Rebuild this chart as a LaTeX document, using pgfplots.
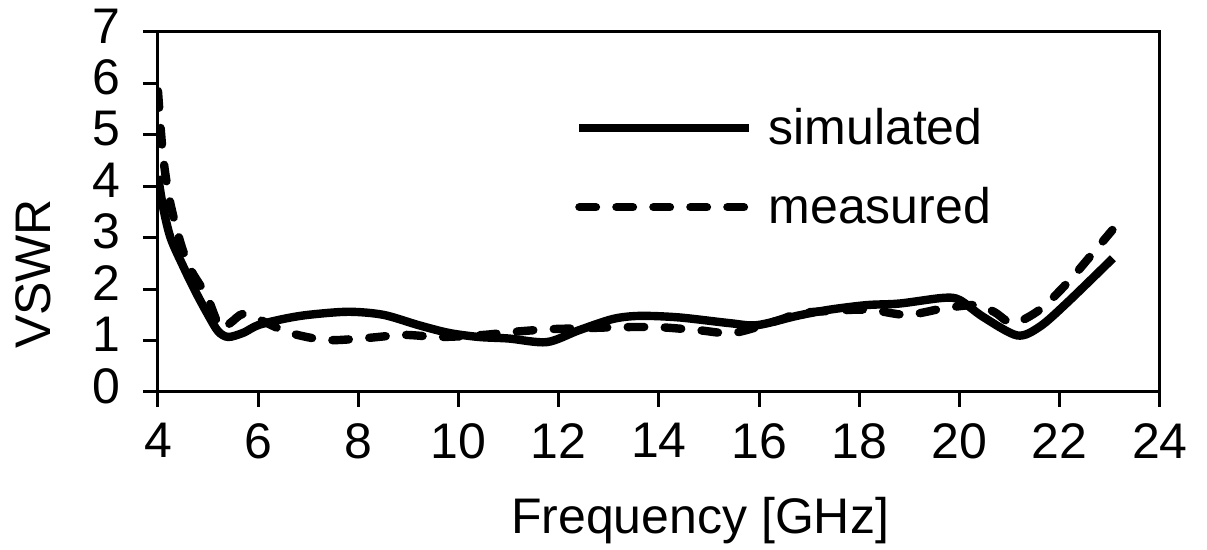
\documentclass[border=0pt]{standalone}
\usepackage{fontspec}
\setmainfont{Liberation Sans}
\usepackage{pgfplots}
\pgfplotsset{compat=1.18}
\begin{document}
\begin{tikzpicture}
\begin{axis}[
  scale only axis, width=501pt, height=180pt,
  xmin=4, xmax=24, ymin=0, ymax=7,
  xtick={4,6,...,24}, ytick={0,1,...,7},
  xtick pos=left, ytick pos=left,
  tick align=outside, major tick length=7.5pt,
  tick style={line width=1.5pt, black},
  axis line style={line width=1.5pt},
  /pgf/number format/assume math mode=true,
  tick label style={font=\fontsize{25}{30}\selectfont},
  label style={font=\fontsize{25}{30}\selectfont},
  xticklabel shift=4.7pt,
  yticklabel shift=8pt,
  yticklabel style={yshift=3pt},
  xlabel={Frequency [GHz]}, ylabel={VSWR},
  xlabel style={at={(axis description cs:0.541,-0.392)}, anchor=base},
  ylabel style={at={(axis description cs:-0.1248,0.328)}, anchor=center},
  legend style={draw=none, fill=none, at={(axis description cs:0.416,0.80)}, anchor=north west,
    inner sep=0pt, row sep=16pt, column sep=5.5pt, font=\fontsize{25}{30}\selectfont,
    nodes={inner sep=2pt}},
  legend cell align=left,
  legend image code/.code={\draw[#1] (0pt,0pt) -- (85pt,0pt);},
]
\addplot[black, line width=4.2pt, smooth, tension=0.5] coordinates {
(4.0,4.2) (4.1,3.6) (4.25,3.0) (4.5,2.45) (4.75,1.95) (5.0,1.5) (5.2,1.18) (5.4,1.07)
(5.7,1.15) (6.0,1.3) (6.5,1.42) (7.0,1.5) (7.8,1.56) (8.5,1.5) (9.2,1.3) (9.8,1.15)
(10.4,1.07) (11.0,1.04) (11.76,0.97) (12.4,1.2) (13.08,1.42) (13.62,1.48) (14.4,1.45)
(15.4,1.34) (15.96,1.3) (16.75,1.48) (17.4,1.6) (18.15,1.69) (18.8,1.72) (19.67,1.83)
(20.0,1.79) (20.47,1.46) (21.15,1.1) (21.6,1.27) (22.14,1.73) (23.06,2.6)
};
\addlegendentry{simulated}
\addplot[black, line width=4.2pt, line cap=round, dash pattern=on 8.25pt off 10.25pt, smooth, tension=0.5] coordinates {
(4.0,5.85) (4.1,4.6) (4.24,3.7) (4.45,2.9) (4.64,2.4) (4.98,1.85) (5.24,1.25) (5.44,1.34)
(5.7,1.52) (6.04,1.4) (6.63,1.15) (7.37,1.01) (8.17,1.05) (8.9,1.11) (9.63,1.07) (10.5,1.11)
(11.1,1.17) (11.8,1.22) (12.5,1.24) (13.2,1.26) (14.0,1.26) (14.8,1.2) (15.5,1.15) (16.4,1.4)
(16.8,1.53) (17.5,1.58) (18.2,1.6) (18.95,1.5) (19.7,1.63) (20.35,1.69) (20.7,1.55) (21.07,1.34)
(21.6,1.6) (22.15,2.12) (22.6,2.63) (23.05,3.15)
};
\addlegendentry{measured}
\end{axis}
\pgfresetboundingbox
\useasboundingbox (-79pt,-79pt) rectangle (524.5pt,196pt);
\end{tikzpicture}
\end{document}
